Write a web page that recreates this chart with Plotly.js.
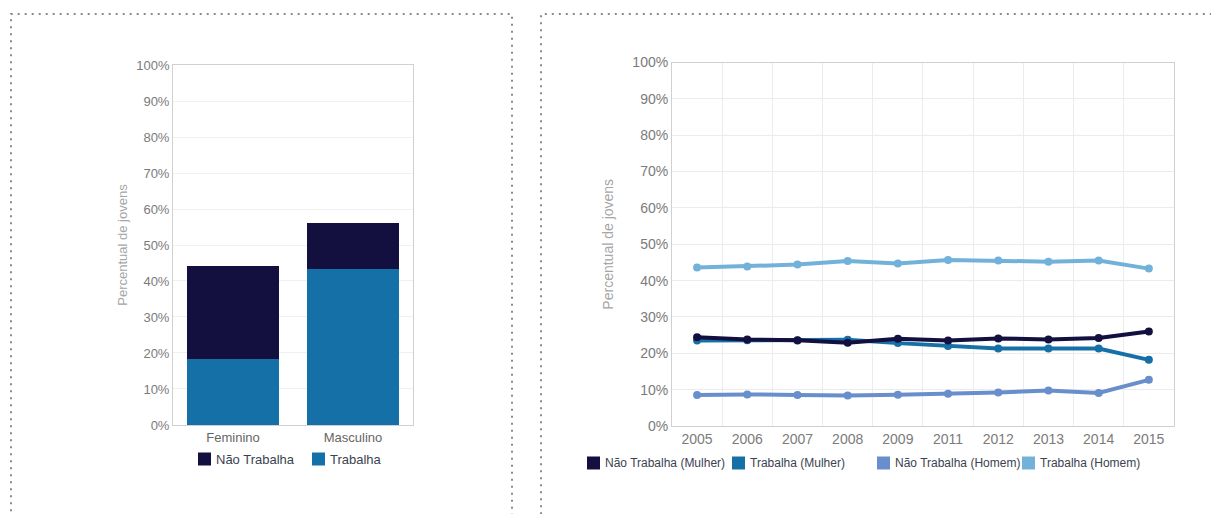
<!DOCTYPE html>
<html>
<head>
<meta charset="utf-8">
<script src="https://cdn.plot.ly/plotly-3.0.1.min.js"></script>
<style>
  html, body { margin: 0; padding: 0; background: #fff; }
  #chart { width: 1211px; height: 514px; }
</style>
</head>
<body>
<div id="chart"></div>
<script>
// gráfico da esquerda: por sexo
const sexos = ['Feminino', 'Masculino'];
const trabalha = [18.3, 43.3];
const naoTrabalha = [25.9, 12.7];

// gráfico da direita: série histórica
const anos = ['2005', '2006', '2007', '2008', '2009', '2011', '2012', '2013', '2014', '2015'];
const naoTrabalhaMulher = [24.4, 23.8, 23.6, 22.9, 24.0, 23.5, 24.1, 23.8, 24.2, 26.0];
const trabalhaMulher = [23.5, 23.6, 23.5, 23.7, 22.8, 22.0, 21.3, 21.3, 21.3, 18.2];
const naoTrabalhaHomem = [8.5, 8.7, 8.5, 8.4, 8.6, 8.9, 9.2, 9.8, 9.1, 12.7];
const trabalhaHomem = [43.6, 43.9, 44.4, 45.4, 44.7, 45.7, 45.5, 45.2, 45.5, 43.3];

const percentTicks = [0, 10, 20, 30, 40, 50, 60, 70, 80, 90, 100];
const percentLabels = percentTicks.map(v => v + '%');

const corNao = '#130f3f';
const corTrab = '#1670a8';
const corNaoH = '#688fcc';
const corTrabH = '#72b2da';

const W = 1211, H = 514;

const data = [
    { x: sexos, y: trabalha, type: 'bar', name: 'Trabalha', marker: { color: corTrab },
      xaxis: 'x', yaxis: 'y', hoverinfo: 'y' },
    { x: sexos, y: naoTrabalha, type: 'bar', name: 'Não Trabalha', marker: { color: corNao },
      xaxis: 'x', yaxis: 'y', hoverinfo: 'y' }
];

const series = [
    ['Não Trabalha (Mulher)', naoTrabalhaMulher, corNao],
    ['Trabalha (Mulher)', trabalhaMulher, corTrab],
    ['Não Trabalha (Homem)', naoTrabalhaHomem, corNaoH],
    ['Trabalha (Homem)', trabalhaHomem, corTrabH]
];

// linhas (ordem de desenho: homem embaixo, mulher por cima)
[3, 2, 1, 0].forEach(i => {
    const s = series[i];
    data.push({
        x: anos, y: s[1], type: 'scatter', mode: 'lines+markers', name: s[0],
        line: { color: s[2], width: 4 }, marker: { color: s[2], size: 8 },
        xaxis: 'x2', yaxis: 'y2'
    });
});

// legendas desenhadas à mão (quadrado + texto colado, como no original)
const shapes = [
    { type: 'rect', xref: 'paper', yref: 'paper', x0: 11 / W, x1: 512 / W, y0: -0.05, y1: 1 - 14 / H,
      line: { color: '#8a8a8a', width: 2, dash: '2px,5px' } },
    { type: 'rect', xref: 'paper', yref: 'paper', x0: 541 / W, x1: 1.05, y0: -0.05, y1: 1 - 14 / H,
      line: { color: '#8a8a8a', width: 2, dash: '2px,5px' } }
];
const annotations = [];

function legenda(itens, x0, passo, yc, tam, fonte) {
    itens.forEach((it, i) => {
        const x = x0 + i * passo;
        shapes.push({
            type: 'rect', xref: 'paper', yref: 'paper', line: { width: 0 }, fillcolor: it[1],
            x0: x / W, x1: (x + tam) / W, y0: 1 - (yc + tam / 2) / H, y1: 1 - (yc - tam / 2) / H
        });
        annotations.push({
            xref: 'paper', yref: 'paper', x: (x + tam + 3) / W, y: 1 - yc / H,
            xanchor: 'left', yanchor: 'middle', showarrow: false, text: it[0],
            font: { size: fonte, color: '#3c4250' }
        });
    });
}
legenda([['Não Trabalha', corNao], ['Trabalha', corTrab]], 198, 114, 459, 13, 13);
legenda(series.map(s => [s[0], s[2]]), 587, 145, 463, 13, 12);

const tickGray = '#7b7b7b';
const titleGray = '#a6a6a6';

const layout = {
    width: W,
    height: H,
    margin: { l: 0, r: 0, t: 0, b: 0, autoexpand: false },
    paper_bgcolor: '#ffffff',
    plot_bgcolor: '#ffffff',
    font: { family: 'Liberation Sans, Arial, sans-serif', color: '#444' },
    barmode: 'stack',
    bargap: 0.24,
    showlegend: false,
    xaxis: {
        domain: [0.1429, 0.341], anchor: 'y', type: 'category',
        showline: true, mirror: true, linecolor: '#d0d0d0', linewidth: 1,
        showgrid: false, ticks: '',
        tickfont: { size: 13, color: '#666' }
    },
    yaxis: {
        domain: [0.1732, 0.8735], anchor: 'x', range: [0, 100],
        tickvals: percentTicks, ticktext: percentLabels,
        showline: true, mirror: true, linecolor: '#d0d0d0', linewidth: 1,
        gridcolor: '#f0f0f0', zeroline: false, ticks: '',
        tickfont: { size: 13, color: tickGray },
        title: { text: 'Percentual de jovens', font: { size: 13, color: titleGray }, standoff: 5 }
    },
    xaxis2: {
        domain: [0.5549, 0.9694], anchor: 'y2', type: 'category', range: [-0.5, 9.5],
        tickson: 'boundaries', ticks: '',
        showline: true, mirror: true, linecolor: '#d0d0d0', linewidth: 1,
        gridcolor: '#ececec',
        tickfont: { size: 14, color: tickGray }
    },
    yaxis2: {
        domain: [0.1712, 0.8784], anchor: 'x2', range: [0, 100],
        tickvals: percentTicks, ticktext: percentLabels,
        showline: true, mirror: true, linecolor: '#d0d0d0', linewidth: 1,
        gridcolor: '#ececec', zeroline: false, ticks: '',
        tickfont: { size: 14, color: tickGray },
        title: { text: 'Percentual de jovens', font: { size: 14, color: titleGray }, standoff: 15 }
    },
    shapes: shapes,
    annotations: annotations
};

Plotly.newPlot('chart', data, layout, { displayModeBar: false, staticPlot: true });
</script>
</body>
</html>
